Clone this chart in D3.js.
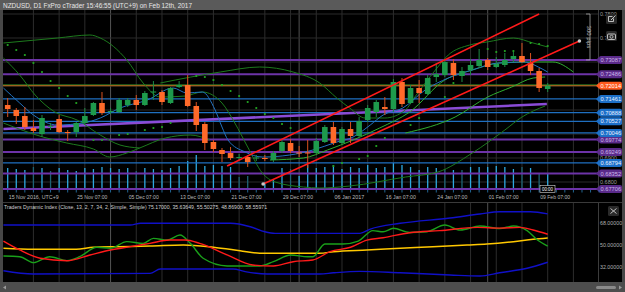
<!DOCTYPE html>
<html><head><meta charset="utf-8">
<script src="https://cdn.jsdelivr.net/npm/d3@7"></script>
<style>body{margin:0;background:#474747;} svg{display:block;font-family:"Liberation Sans",Arial,sans-serif;}</style>
</head><body><svg id="c" width="625" height="292"></svg>
<script>
// ---------- DATA ----------
const titleText = "NZDUSD, D1 FxPro cTrader 15:46:55 (UTC+9) on Feb 12th, 2017";
const tdiTitle = "Traders Dynamic Index (Close, 13, 2, 7, 34, 2, Simple, Simple) 75.17000, 35.63649, 55.50275, 48.86900, 58.55971";
const openP  = [.71208,.71000,.70750,.70250,.70000,.70292,.70625,.70083,.70083,.70458,.70792,.71292,.70917,.70917,.71208,.71417,.71208,.71729,.71750,.71292,.71958,.72042,.71167,.70417,.69667,.69333,.69208,.69000,.69042,.69000,.69000,.68917,.69292,.69625,.69229,.69229,.69208,.69667,.70292,.69625,.70208,.69917,.70583,.70917,.71125,.71042,.72167,.71292,.71917,.71667,.72375,.72458,.72958,.72417,.72667,.72833,.73083,.72792,.72875,.73125,.73250,.72958,.72625,.71875];
const highP  = [.71500,.71083,.71125,.70583,.70792,.70458,.70792,.70167,.70500,.71083,.71333,.71750,.71083,.71500,.71500,.71625,.71792,.72208,.71833,.71958,.72208,.72458,.71333,.70500,.69750,.69417,.69458,.69167,.69125,.69125,.69125,.69292,.69750,.69792,.69500,.69750,.69833,.70375,.70500,.70292,.70500,.70708,.71208,.71417,.71542,.72292,.72333,.72042,.72250,.72458,.72958,.73125,.73125,.72792,.73125,.73542,.73167,.73208,.73375,.73417,.73792,.73375,.72750,.72125];
const lowP   = [.70708,.70417,.70167,.70042,.69875,.70167,.70042,.69708,.69875,.70375,.70750,.70792,.70833,.70875,.71125,.71000,.71167,.71417,.71208,.71250,.71917,.71125,.70125,.69333,.69250,.68833,.68917,.68917,.68625,.68875,.68875,.68833,.69208,.69208,.69042,.68583,.69167,.69625,.69542,.69583,.69625,.69875,.70500,.70708,.70792,.70917,.71125,.71250,.71292,.71625,.72167,.72375,.72250,.72167,.72458,.72750,.72667,.72750,.72792,.73000,.72958,.72458,.71750,.71750];
const closeP = [.71042,.70750,.70292,.70125,.70667,.70333,.70083,.70042,.70458,.70750,.71292,.70875,.70958,.71417,.71417,.71208,.71708,.71771,.71333,.71917,.72042,.71167,.70375,.69625,.69375,.69167,.69000,.69042,.68833,.69021,.68958,.69208,.69667,.69292,.69188,.69188,.69708,.70292,.69625,.70208,.69917,.70542,.71083,.71333,.71042,.72167,.71250,.71917,.71708,.72333,.72500,.73000,.72458,.72625,.72875,.73083,.72792,.72917,.73083,.73250,.73000,.72625,.71917,.72014];
const volumeK = [22,21,20,23,22,19,22,20,19,22,21,23,22,21,22,19,22,21,20,22,24,29,35,24,25,24,23,13,14,1,8,10,22,21,14,25,22,23,25,21,23,22,25,22,23,27,25,23,20,23,22,21,20,20,23,23,23,24,23,21,23,22,17,17];
const volumeDark = [3,5,15,27,28,33,51,53,60,62];

const xLabels   = ["15 Nov 2016, UTC+9","25 Nov 07:00","05 Dec 07:00","13 Dec 07:00","21 Dec 07:00","29 Dec 07:00","06 Jan 2017","16 Jan 07:00","24 Jan 07:00","01 Feb 07:00","09 Feb 07:00"];
const xLabelIdx = [0,8,14,20,26,32,38,44,50,56,62];
const monthStartIdx = [12,34,56];

const purpleLevels = [0.73087,0.72486,0.69774,0.69249,0.68352,0.67706];
const blueLevels   = [0.71461,0.70888,0.70527,0.70046,0.68794];
const lastPrice    = 0.72014;
const priceTicks   = [0.75,0.74,0.69,0.68];
const priceTickText= ["0.7500","0.74","0.6900","0.6800"];

// trend lines [index, price]
const redUpper = [[25.6,0.68667],[62.0,0.75000]];
const redLower = [[29.8,0.67917],[66.7,0.73875]];
const purpleTrend = [[-0.5,0.70208],[62.9,0.71250]];

// indicator curves [index, price]
const maBlue = [[-0.5,.71917],[1.4,.71292],[3.0,.70792],[5.8,.70375],[8.8,.70458],[10.8,.70667],[13.1,.71083],[16.3,.71417],[19.3,.71917],[20.9,.71708],[22.7,.71750],[24.2,.71000],[25.0,.70292],[25.7,.69750],[27.7,.69250],[29.7,.69042],[32.9,.69125],[35.6,.69333],[38.4,.69667],[40.3,.69875],[42.3,.70375],[43.8,.70792],[46.1,.71083],[48.7,.71833],[51.4,.72333],[54.2,.72667],[57.2,.72958],[60.4,.73000],[61.9,.72792],[63.0,.72583]];
const greenA = [[-0.5,.73792],[5.8,.74000],[9.6,.74125],[10.8,.74000],[13.9,.73083],[15.8,.72125],[17.8,.71542],[20.7,.71583],[22.7,.71750],[25.0,.71292],[26.5,.70458],[28.0,.69458],[29.7,.68375],[31.2,.68000],[34.5,.67792],[36.4,.67750],[39.9,.67833],[46.4,.68208],[50.2,.68417],[54.2,.69208],[58.0,.70167],[60.0,.70708],[62.7,.71167]];
const greenB = [[17.8,.72125],[24.8,.72583],[29.4,.72792],[33.3,.72583],[36.4,.72125],[38.4,.71500],[39.9,.71083],[41.7,.70667],[44.0,.70667],[46.4,.71000],[47.5,.71542],[49.9,.72667],[51.4,.73292],[53.9,.73708],[55.9,.73833],[59.0,.74000],[61.3,.73792],[63.0,.73625]];
const greenD = [[30.6,.68917],[34.5,.69000],[37.3,.69333],[40.3,.69750],[43.4,.70250],[46.9,.70917],[51.0,.72250],[54.2,.72667],[57.4,.72958],[61.3,.73000],[63.6,.73000],[66.0,.72583]];
const greenE = [[46.4,.70042],[52.2,.70708],[56.0,.71542],[58.8,.71958],[61.3,.72333],[62.7,.72375]];
const greenF = [[-0.5,.70458],[4.1,.69875],[6.9,.69625],[10.0,.69375],[11.9,.69042],[13.9,.69208],[15.4,.69417],[18.4,.69833],[21.3,.69958],[23.6,.69750]];
const greenG = [[-0.5,.73167],[1.4,.72458],[3.2,.71625],[5.5,.70917],[8.1,.70583],[10.8,.69958],[13.1,.69542],[15.4,.69417]];
const sarDots = [[0,.73708],[1,.73500],[2,.73292],[3,.72958],[4,.72583],[5,.72208],[6,.71917],[7,.71583],[8,.71292],[10,.69750],[11,.69750],[13,.69958],[14,.70000],[16,.70167],[17,.70250],[18,.70292],[19,.70458],[22,.72417],[23,.72375],[24,.72250],[25,.72042],[26,.71792],[27,.71583],[28,.71333],[29,.71083],[30,.70833],[31,.70667],[32,.70417],[33,.70250],[38,.68667],[39,.68792],[41,.68958],[42,.69083],[43,.69500],[44,.69833],[47,.70375],[48,.70667],[51,.71542],[52,.72125],[56,.73542],[57,.73417],[58,.73458],[59,.73458],[61,.73792],[62,.73750],[63,.73667]];

// Traders Dynamic Index [index, value]
const tdiUpper = [[-0.5,66.1],[14.3,66.1],[15.5,67.5],[26,67.5],[28.3,64.7],[30,60.6],[31.2,59.3],[41.1,59.3],[42.3,62.8],[45.8,67.5],[51.6,71.8],[55.1,75.1],[57.4,77.0],[61,77.0],[63,75.17]];
const tdiLower = [[-0.5,28.7],[3,26.0],[16.6,26.5],[17.8,30.1],[26.3,30.1],[27.7,28.0],[30.3,26.0],[36.4,26.0],[38,27.0],[41.1,28.2],[45.8,27.0],[51.6,25.2],[55.1,24.4],[57.4,27.0],[60.6,30.7],[63,35.64]];
const tdiPrice = [[-0.5,40.7],[1.4,40.2],[3,35.3],[4.9,40.2],[6.9,37.0],[8.4,40.2],[10.4,47.9],[12,47.1],[13.9,52.5],[15.8,51.1],[17,55.2],[18.6,53.8],[20.1,57.9],[21.3,51.1],[22.8,38.9],[25.6,32.6],[29.4,32.6],[31,36.1],[33,41.6],[35,40.2],[35.6,40.2],[37,50.6],[39.1,50.6],[40.9,53.0],[42.6,61.5],[43.8,60.6],[45,63.4],[46.9,60.0],[48.9,60.6],[51,66.1],[52.8,62.0],[55.1,65.3],[57.4,63.2],[59,65.3],[60.6,61.5],[61.8,53.8],[63,48.87]];
const tdiSignal = [[-0.5,53.0],[1.4,45.7],[3.8,38.9],[6.9,36.9],[9.6,41.6],[12,45.7],[14.3,48.4],[16.6,51.1],[18.9,53.8],[20.7,53.8],[22.4,51.1],[25.6,41.6],[28.6,33.4],[31,32.6],[33.3,36.1],[35.6,37.5],[37.6,44.3],[40,47.9],[41.9,53.8],[43.8,55.7],[46.9,59.8],[50.4,61.5],[54.8,64.2],[57.4,63.6],[59.8,64.2],[61.3,62.0],[63,58.56]];
const tdiBase = [[-0.5,47.0],[3,46.2],[8,46.2],[10,47.9],[12.8,48.4],[16.6,48.9],[20.5,49.8],[24,47.9],[27.1,45.1],[29.4,43.0],[36.4,43.0],[38,44.3],[41.9,45.7],[45.8,47.0],[49.6,48.4],[53.6,49.8],[55.9,50.6],[59,52.5],[61.3,54.4],[63,55.50]];
const tdiTicks = [68,50,32];

// ---------- DRAW ----------
const svg = d3.select("#c");
const W = 625, H = 292;
const PL = 3, PR = 598, PT = 10, PB = 190, RE = 622;
const LT = 203, LB = 282;
const x  = d3.scaleLinear().domain([0,63]).range([7.7,547.7]);
const y  = d3.scaleLinear().domain([0.67667,0.75167]).range([PB,PT]);
const vy = d3.scaleLinear().domain([0,40]).range([PB,PB-40]);
const ty = d3.scaleLinear().domain([32,68]).range([266.7,222.7]);

svg.append("rect").attr("width",W).attr("height",H).attr("fill","#474747");
svg.append("rect").attr("x",0).attr("y",0).attr("width",W).attr("height",PT).attr("fill","#5a5a5a");
svg.append("rect").attr("x",PL).attr("y",PT).attr("width",RE-PL).attr("height",LB-PT).attr("fill","#000");
svg.append("line").attr("x1",PL).attr("x2",RE).attr("y1",202.5).attr("y2",202.5).attr("stroke","#3a3a3a");
svg.append("line").attr("x1",PR+0.5).attr("x2",PR+0.5).attr("y1",PT).attr("y2",PB).attr("stroke","#3c3c3c");
svg.append("line").attr("x1",PR+0.5).attr("x2",PR+0.5).attr("y1",LT).attr("y2",LB).attr("stroke","#3c3c3c");

const defs = svg.append("defs");
defs.append("clipPath").attr("id","mainClip").append("rect").attr("x",PL).attr("y",PT).attr("width",PR-PL).attr("height",PB-PT);
defs.append("clipPath").attr("id","lowClip").append("rect").attr("x",PL).attr("y",LT).attr("width",PR-PL).attr("height",LB-LT);

const main = svg.append("g").attr("clip-path","url(#mainClip)");
const low  = svg.append("g").attr("clip-path","url(#lowClip)");

// grid
const gridIdx = d3.range(3,70,3);
main.selectAll(".vg").data(gridIdx).join("line")
  .attr("x1",d=>x(d)).attr("x2",d=>x(d)).attr("y1",PT).attr("y2",PB).attr("stroke","#2c2c2c");
low.selectAll(".vg").data(gridIdx).join("line")
  .attr("x1",d=>x(d)).attr("x2",d=>x(d)).attr("y1",LT).attr("y2",LB).attr("stroke","#2c2c2c");
main.selectAll(".ms").data(monthStartIdx).join("line")
  .attr("x1",d=>x(d)).attr("x2",d=>x(d)).attr("y1",PT).attr("y2",PB).attr("stroke","#505050");
low.selectAll(".ms").data(monthStartIdx).join("line")
  .attr("x1",d=>x(d)).attr("x2",d=>x(d)).attr("y1",LT).attr("y2",LB).attr("stroke","#505050");
main.selectAll(".hg").data(d3.range(0.68,0.755,0.01)).join("line")
  .attr("x1",PL).attr("x2",PR).attr("y1",d=>y(d)).attr("y2",d=>y(d)).attr("stroke","#2a2a2a");

// volume
main.selectAll(".vol").data(volumeK).join("line")
  .attr("x1",(d,i)=>x(i)).attr("x2",(d,i)=>x(i)).attr("y1",PB).attr("y2",d=>vy(d))
  .attr("stroke",(d,i)=>volumeDark.includes(i)?"#1d6275":"#2ea8e0").attr("stroke-width",1.3);

// horizontal levels
main.selectAll(".bl").data(blueLevels).join("line")
  .attr("x1",PL).attr("x2",PR).attr("y1",d=>y(d)).attr("y2",d=>y(d)).attr("stroke","#1f6fc0").attr("stroke-width",1.2);
main.selectAll(".pl").data(purpleLevels).join("line")
  .attr("x1",PL).attr("x2",PR).attr("y1",d=>y(d)).attr("y2",d=>y(d)).attr("stroke","#6d33a8").attr("stroke-width",2);
main.append("line").attr("x1",PL).attr("x2",PR).attr("y1",y(lastPrice)).attr("y2",y(lastPrice))
  .attr("stroke","#b0601c").attr("stroke-width",1.2);
main.append("line").attr("x1",PL).attr("x2",PR).attr("y1",y(lastPrice)-1).attr("y2",y(lastPrice)-1)
  .attr("stroke","#2f7a22").attr("stroke-width",0.8);

// purple slanted line
const pLine = d3.line().x(d=>x(d[0])).y(d=>y(d[1]));
main.append("path").attr("d",pLine(purpleTrend)).attr("stroke","#8a4cd6").attr("stroke-width",2.6).attr("fill","none");

// indicator curves
const cLine = d3.line().x(d=>x(d[0])).y(d=>y(d[1])).curve(d3.curveMonotoneX);
[[greenA,"#1d7a1d"],[greenB,"#1d7a1d"],[greenF,"#1d7a1d"],[greenG,"#1d7a1d"],[greenD,"#2fae2f"],[greenE,"#2fae2f"]]
  .forEach(([d,c])=>main.append("path").attr("d",cLine(d)).attr("fill","none").attr("stroke",c).attr("stroke-width",1));
main.append("path").attr("d",cLine(maBlue)).attr("fill","none").attr("stroke","#2272c0").attr("stroke-width",1);

// candles
const bw = 5.6;
const candles = openP.map((o,i)=>({i,o,h:highP[i],l:lowP[i],c:closeP[i]}));
const cg = main.selectAll(".cd").data(candles).join("g");
const col = d=> d.c>=d.o ? "#1e9a4c" : "#ff6a2a";
cg.append("line").attr("x1",d=>x(d.i)).attr("x2",d=>x(d.i)).attr("y1",d=>y(d.h)).attr("y2",d=>y(d.l))
  .attr("stroke",d=> d.c>=d.o ? "#1e8a44" : "#d9501f").attr("stroke-width",1);
cg.append("rect").attr("x",d=>x(d.i)-bw/2).attr("width",bw)
  .attr("y",d=>y(Math.max(d.o,d.c))).attr("height",d=>Math.max(1,Math.abs(y(d.o)-y(d.c))))
  .attr("fill",col);

// SAR dots
main.selectAll(".sar").data(sarDots).join("circle")
  .attr("cx",d=>x(d[0])).attr("cy",d=>y(d[1])).attr("r",1.1).attr("fill","#23a823");

// red channel
main.append("path").attr("d",pLine(redUpper)).attr("stroke","#ff1a1a").attr("stroke-width",1.6).attr("fill","none");
main.append("path").attr("d",pLine(redLower)).attr("stroke","#ff1a1a").attr("stroke-width",1.6).attr("fill","none");
main.selectAll(".rd").data(redLower).join("circle").attr("cx",d=>x(d[0])).attr("cy",d=>y(d[1])).attr("r",1.8).attr("fill","#c8c8c8");

// 300 pips bracket
const bx = 590;
svg.append("path").attr("d",`M${bx-4},${y(0.75)}H${bx}V${y(0.73087)}H${bx-4}`).attr("fill","none").attr("stroke","#aaaaaa").attr("stroke-width",0.8);
svg.append("text").attr("transform",`translate(${bx-3},${(y(0.75)+y(0.73087))/2}) rotate(90)`)
  .attr("text-anchor","middle").attr("font-size",6).attr("fill","#bbbbbb").text("300 pips");

// price axis texts
svg.selectAll(".pt").data(priceTicks).join("text")
  .attr("x",600).attr("y",d=>y(d)+1.5).attr("font-size",5.5).attr("fill","#9a9a9a")
  .text((d,i)=>priceTickText[i]);

// price tags
function tag(v, fill, tc){
  const g = svg.append("g");
  g.append("rect").attr("x",599).attr("y",y(v)-4).attr("width",23).attr("height",8).attr("rx",2).attr("fill",fill);
  g.append("path").attr("d",`M599,${y(v)-3}L596,${y(v)}L599,${y(v)+3}Z`).attr("fill",fill);
  g.append("text").attr("x",600.5).attr("y",y(v)+2.1).attr("font-size",5.7).attr("fill",tc).text(v.toFixed(5));
}
purpleLevels.forEach(v=>tag(v,"#5a2a8a","#cdb8e8"));
blueLevels.forEach(v=>tag(v,"#1c6fc8","#e8f2ff"));
tag(lastPrice,"#ff5a1e","#ffffff");

// icons
svg.append("rect").attr("x",606).attr("y",14).attr("width",11).attr("height",10).attr("rx",1.5).attr("fill","#2a2a2a");
svg.append("path").attr("d","M608.5,16.5h4M608.5,16.5v5h5v-3M611,20l4.5,-4.5").attr("stroke","#cfcfcf").attr("fill","none").attr("stroke-width",0.9);
svg.append("rect").attr("x",606).attr("y",31).attr("width",11).attr("height",10).attr("rx",1.5).attr("fill","#2a2a2a");
svg.append("rect").attr("x",607.5).attr("y",34).attr("width",8).attr("height",5.5).attr("rx",1).attr("fill","none").attr("stroke","#cfcfcf").attr("stroke-width",0.9);
svg.append("circle").attr("cx",611.5).attr("cy",36.8).attr("r",1.5).attr("fill","none").attr("stroke","#cfcfcf").attr("stroke-width",0.8);

// x axis
svg.selectAll(".xt").data(d3.range(0,70)).join("line")
  .attr("x1",d=>x(d)).attr("x2",d=>x(d)).attr("y1",PB).attr("y2",PB+2.5).attr("stroke","#2a7fb8").attr("stroke-width",0.8);
svg.selectAll(".xl").data(xLabels).join("text")
  .attr("x",(d,i)=>x(xLabelIdx[i])+1).attr("y",198.5).attr("font-size",6).attr("fill","#b8b8b8")
  .attr("textLength",(d,i)=>i===0?50:30).attr("lengthAdjust","spacingAndGlyphs").text(d=>d);
svg.append("rect").attr("x",540).attr("y",185.5).attr("width",15).attr("height",7).attr("fill","#000").attr("stroke","#d8d8d8").attr("stroke-width",0.6);
svg.append("text").attr("x",542).attr("y",191).attr("font-size",5.5).attr("fill","#ffffff")
  .attr("textLength",11).attr("lengthAdjust","spacingAndGlyphs").text("00:00");

// title
svg.append("text").attr("x",3).attr("y",7.8).attr("font-size",6.8).attr("fill","#e6e6e6")
  .attr("textLength",189).attr("lengthAdjust","spacingAndGlyphs").text(titleText);

// lower panel
const tLine = d3.line().x(d=>x(d[0])).y(d=>ty(d[1])).curve(d3.curveMonotoneX);
low.append("path").attr("d",tLine(tdiUpper)).attr("fill","none").attr("stroke","#1010c8").attr("stroke-width",1.4);
low.append("path").attr("d",tLine(tdiLower)).attr("fill","none").attr("stroke","#1010c8").attr("stroke-width",1.4);
low.append("path").attr("d",tLine(tdiBase)).attr("fill","none").attr("stroke","#ffc800").attr("stroke-width",1.5);
low.append("path").attr("d",tLine(tdiPrice)).attr("fill","none").attr("stroke","#1aa01a").attr("stroke-width",1.4);
low.append("path").attr("d",tLine(tdiSignal)).attr("fill","none").attr("stroke","#ff1a1a").attr("stroke-width",1.4);
svg.append("text").attr("x",4).attr("y",209).attr("font-size",6).attr("fill","#d0d0d0")
  .attr("textLength",263).attr("lengthAdjust","spacingAndGlyphs").text(tdiTitle);
svg.selectAll(".tt").data(tdiTicks).join("text")
  .attr("x",600).attr("y",d=>ty(d)+2).attr("font-size",5.3).attr("fill","#b0b0b0").text(d=>d.toFixed(5));
svg.append("rect").attr("x",608).attr("y",206).attr("width",11).attr("height",10).attr("rx",1.5).attr("fill","#2a2a2a");
svg.append("path").attr("d","M610.5,208.5l6,5M616.5,208.5l-6,5").attr("stroke","#cfcfcf").attr("stroke-width",0.9);

// bottom scroll bar
svg.append("rect").attr("x",0).attr("y",LB).attr("width",W).attr("height",H-LB).attr("fill","#4d4d4d");
svg.append("rect").attr("x",596).attr("y",286).attr("width",20).attr("height",3).attr("rx",1.5).attr("fill","#8a8a8a");
svg.append("path").attr("d","M619,285.5l3,2l-3,2Z").attr("fill","#9a9a9a");
svg.append("path").attr("d","M6,285.5l-3,2l3,2Z").attr("fill","#9a9a9a");
</script></body></html>
